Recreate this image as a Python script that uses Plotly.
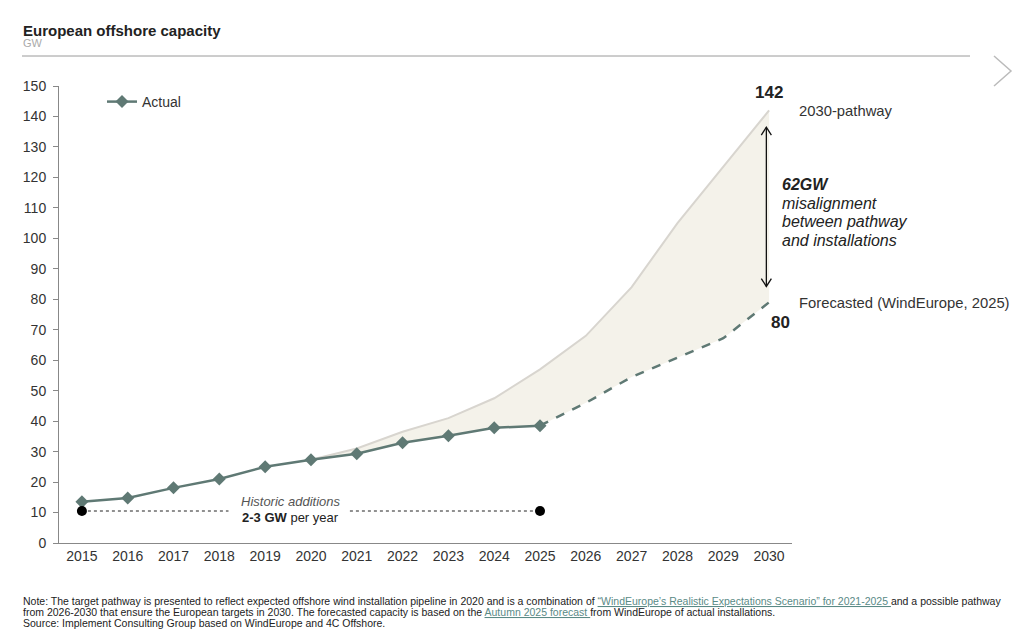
import plotly.graph_objects as go

years = list(range(2015, 2031))
actual_years = list(range(2015, 2026))
actual = [13.5, 14.8, 18.1, 21.0, 25.0, 27.3, 29.3, 32.9, 35.2, 37.8, 38.5]
pathway_years = list(range(2020, 2031))
pathway = [27.3, 31.0, 36.5, 41.0, 47.5, 57.0, 68.0, 84.0, 105.0, 123.5, 142.0]
forecast_years = list(range(2025, 2031))
forecast = [38.5, 46.0, 54.5, 60.8, 67.2, 79.0]
yticks = list(range(0, 151, 10))

line_col = "#5f7974"
font_main = "Liberation Sans, Arial, sans-serif"

W, H = 1024, 634
L, R, T, B = 59, 232, 86, 91
pw, ph = W - L - R, H - T - B
def px(x):
    return (x - L) / pw
def py(y):
    return (H - B - y) / ph

fig = go.Figure()

# lower boundary of the gap area (actual 2020-2025 + forecast 2025-2030)
low_x = actual_years[5:] + forecast_years[1:]
low_y = actual[5:] + forecast[1:]
fig.add_trace(go.Scatter(x=low_x, y=low_y, mode="lines", line=dict(width=0, color="rgba(0,0,0,0)"),
                         showlegend=False, hoverinfo="skip"))
fig.add_trace(go.Scatter(x=pathway_years, y=pathway, mode="lines", fill="tonexty",
                         fillcolor="#f4f2ea", line=dict(color="#d8d5cf", width=2),
                         showlegend=False, name="2030-pathway"))
fig.add_trace(go.Scatter(x=forecast_years, y=forecast, mode="lines",
                         line=dict(color=line_col, width=2.5, dash="dash"),
                         showlegend=False, name="Forecasted"))
fig.add_trace(go.Scatter(x=actual_years, y=actual, mode="lines+markers", name="Actual",
                         line=dict(color=line_col, width=2.5),
                         marker=dict(symbol="diamond", size=10, color=line_col)))

# historic additions
hist_y = 10.5
hist_mid = 2019.55
fig.add_trace(go.Scatter(x=[2015, 2018.2], y=[hist_y, hist_y], mode="lines",
                         line=dict(color="#222", width=1, dash="dot"), showlegend=False, hoverinfo="skip"))
fig.add_trace(go.Scatter(x=[2020.85, 2025], y=[hist_y, hist_y], mode="lines",
                         line=dict(color="#222", width=1, dash="dot"), showlegend=False, hoverinfo="skip"))
fig.add_trace(go.Scatter(x=[2015, 2025], y=[hist_y, hist_y], mode="markers",
                         marker=dict(color="#000", size=10), showlegend=False, hoverinfo="skip"))

fig.add_annotation(x=hist_mid, y=hist_y, xref="x", yref="y", text="<i>Historic additions</i>",
                   showarrow=False, yshift=10, font=dict(size=13, color="#555", family=font_main))
fig.add_annotation(x=hist_mid, y=hist_y, xref="x", yref="y", text="<b>2-3 GW</b> per year",
                   showarrow=False, yshift=-6, font=dict(size=13, color="#222", family=font_main))

# double arrow for misalignment
arr_x = 2029.94
top_a = pathway[-1] - 5.5
bot_a = forecast[-1] + 5.2
fig.add_shape(type="line", x0=arr_x, x1=arr_x, y0=bot_a, y1=top_a, xref="x", yref="y",
              line=dict(color="#111", width=1.3))
for yy, s in [(top_a, -1), (bot_a, 1)]:
    fig.add_shape(type="path", xref="x", yref="y",
                  path=f"M {arr_x-0.11},{yy + s*2.6} L {arr_x},{yy} L {arr_x+0.11},{yy + s*2.6}",
                  line=dict(color="#111", width=1.3))

mis_lines = ["<em>62GW</em>", "<i>misalignment</i>", "<i>between pathway</i>", "<i>and installations</i>"]
for i, t in enumerate(mis_lines):
    fig.add_annotation(x=px(780), y=py(185 + i * 18.5), xref="paper", yref="paper", xanchor="left",
                       yanchor="middle", text=t, showarrow=False,
                       font=dict(size=16, color="#222", family=font_main))

fig.add_annotation(x=2030, y=pathway[-1], xref="x", yref="y", text="<b>142</b>", showarrow=False,
                   yshift=18, xshift=0, font=dict(size=17, color="#222", family=font_main))
fig.add_annotation(x=2030, y=forecast[-1], xref="x", yref="y", text="<b>80</b>", showarrow=False,
                   yshift=-20, xshift=11, font=dict(size=17, color="#222", family=font_main))

fig.add_annotation(x=px(797), y=py(111), xref="paper", yref="paper", xanchor="left", yanchor="middle",
                   text="2030-pathway", showarrow=False, font=dict(size=14.8, color="#333", family=font_main))
fig.add_annotation(x=px(797), y=py(303), xref="paper", yref="paper", xanchor="left", yanchor="middle",
                   text="Forecasted (WindEurope, 2025)", showarrow=False,
                   font=dict(size=14.8, color="#333", family=font_main))

# title and subtitle
fig.add_annotation(x=px(21), y=py(30), xref="paper", yref="paper", xanchor="left", yanchor="middle",
                   text="<b>European offshore capacity</b>", showarrow=False,
                   font=dict(size=15, color="#222", family=font_main))
fig.add_annotation(x=px(21), y=py(43), xref="paper", yref="paper", xanchor="left", yanchor="middle",
                   text="GW", showarrow=False, font=dict(size=11, color="#aaa", family=font_main))
fig.add_shape(type="line", xref="paper", yref="paper", x0=px(22), x1=px(970), y0=py(56), y1=py(56),
              line=dict(color="#9a9a9a", width=1))
fig.add_shape(type="path", xref="paper", yref="paper",
              path=f"M {px(994)},{py(56)} L {px(1011)},{py(71)} L {px(994)},{py(86)}",
              line=dict(color="#bbbbbb", width=1.5))

# footnotes
link = "#5a8a86"
notes = [
    "Note: The target pathway is presented to reflect expected offshore wind installation pipeline in 2020 and is a combination of "
    f"<span style='color:{link}'><u>“WindEurope’s Realistic Expectations Scenario” for 2021-2025 </u></span>and a possible pathway",
    "from 2026-2030 that ensure the European targets in 2030. The forecasted capacity is based on the "
    f"<span style='color:{link}'><u>Autumn 2025 forecast </u></span>from WindEurope of actual installations.",
    "Source: Implement Consulting Group based on WindEurope and 4C Offshore.",
]
for i, t in enumerate(notes):
    fig.add_annotation(x=px(21), y=py(601 + i * 11), xref="paper", yref="paper", xanchor="left", yanchor="middle",
                       text=t, showarrow=False,
                       font=dict(size=10.5, color="#222", family="Liberation Sans, Arial"))

fig.update_layout(
    width=W, height=H,
    margin=dict(l=L, r=R, t=T, b=B, pad=0),
    plot_bgcolor="white", paper_bgcolor="white",
    font=dict(family=font_main, size=14, color="#333"),
    showlegend=True,
    legend=dict(x=px(102), y=py(86), xanchor="left", yanchor="top", bgcolor="rgba(0,0,0,0)",
                font=dict(size=14, color="#333"), itemwidth=30),
    xaxis=dict(range=[2014.5, 2030.5], tickmode="array", tickvals=years, ticktext=[str(y) for y in years],
               showgrid=False, zeroline=False, showline=True, linecolor="#888", linewidth=1,
               ticks="", tickfont=dict(size=14, color="#333")),
    yaxis=dict(range=[0, 150], tickmode="array", tickvals=yticks, showgrid=False, zeroline=False,
               showline=True, linecolor="#888", linewidth=1, ticks="outside", ticklen=5, tickcolor="#888",
               ticklabelstandoff=4, tickfont=dict(size=14, color="#333")),
)

fig.write_html("out.html")
